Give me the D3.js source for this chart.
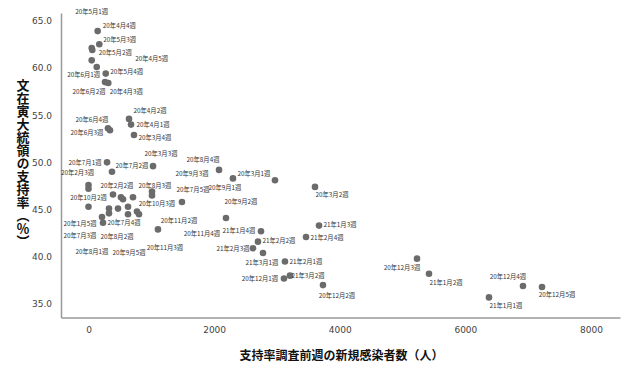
<!DOCTYPE html>
<html><head><meta charset="utf-8">
<script src="https://cdn.jsdelivr.net/npm/d3@7"></script>
<style>body{margin:0;background:#fff}svg{display:block}</style>
</head><body><svg id="c" width="627" height="369"></svg>
<script>
// Week labels ("" = point not labelled in the original)
const weeks = ["20年5月1週","20年4月4週","20年5月3週","20年5月2週","20年4月5週","20年5月4週","20年6月1週","20年6月2週","20年4月3週",
"20年4月2週","20年4月1週","20年6月4週","20年6月3週","20年3月4週","20年3月3週","20年7月1週","20年7月2週","20年2月3週","",
"20年2月2週","","","20年8月3週","20年9月3週","20年7月5週","20年10月2週","20年7月3週","20年8月1週","20年8月2週","",
"20年9月5週","20年10月3週","20年11月2週","20年9月2週","20年1月5週","20年7月4週","20年11月3週",
"20年8月4週","20年9月1週","20年3月1週","20年3月2週","20年11月4週","21年1月4週","21年2月2週","21年2月3週","21年3月1週",
"21年2月1週","21年1月3週","21年2月4週","20年12月1週","21年3月2週","20年12月2週","20年12月3週","21年1月2週","21年1月1週",
"20年12月4週","20年12月5週"];
// New infections in the week before the poll (people)
const infections = [146,172,51,60,51,131,274,263,315,645,677,310,342,724,1027,295,374,0,0,390,517,549,708,1011,1011,0,326,326,470,629,629,772,804,1488,215,231,1106,
2078,2300,2969,3606,2189,2746,2698,2619,2778,3128,3670,3463,3112,3208,3733,5230,5421,6376,6917,7220];
// Approval rating (%)
const approval = [63.9,62.5,62.1,61.9,60.8,60.1,59.4,58.5,58.4,54.6,54.0,53.6,53.4,52.9,49.6,50.0,49.0,47.6,47.2,46.6,46.3,46.1,46.3,46.9,46.5,45.3,45.1,44.6,45.1,45.3,44.5,44.8,44.5,45.8,44.2,43.6,42.9,
49.2,48.3,48.1,47.4,44.1,42.7,41.6,40.9,40.4,39.5,43.3,42.1,37.7,38.0,37.0,39.8,38.2,35.7,36.9,36.8];
const xTicks = [0,2000,4000,6000,8000];
const yTicks = [35,40,45,50,55,60,65];
const xTitle = "支持率調査前週の新規感染者数（人）";
const yTitle = "文在寅大統領の支持率（％）";
// label placement (px offsets from the point)
const labelOffsets = [[-6,-20],[20,-19],[28,-9],[23,3],[60,-2],[30,5],[-22,1],[-16,9],[18,8],[21,-8],[22,0],[-16,-9],[-23,2],[21,3],[8,-13],[-22,0],[20,-6],[-11,-13],[0,0],
[4,-9],[0,0],[0,0],[22,-12],[40,-18],[41,-6],[0,-9],[-29,27],[-17,38],[-1,28],[0,0],[1,38],[20,-8],[40,6],[59,-1],[-22,6],[21,0],[7,18],
[-16,-10],[-8,9],[-21,-7],[17,8],[-24,15],[-22,-1],[21,-1],[-20,0],[-1,9],[21,0],[21,-1],[21,1],[-24,0],[18,0],[14,10],[-15,9],[17,9],[17,8],[-15,-10],[15,7]];

const svg = d3.select("#c");
const x = d3.scaleLinear().domain([0,8000]).range([88.5,591]);
const y = d3.scaleLinear().domain([35,65]).range([304,20.7]);
const L = 61, R = 620, T = 13, B = 317.5;
const xa = x.copy().domain([x.invert(L), x.invert(R)]).range([L,R]);
const ya = y.copy().domain([y.invert(B), y.invert(T)]).range([B,T]);

const gx = svg.append("g").attr("transform",`translate(0,${B})`)
  .call(d3.axisBottom(xa).tickValues(xTicks).tickSize(0).tickPadding(9).tickFormat(d3.format("d")));
const gy = svg.append("g").attr("transform",`translate(${L},0)`)
  .call(d3.axisLeft(ya).tickValues(yTicks).tickSize(0).tickPadding(9).tickFormat(d3.format(".1f")));
[gx,gy].forEach(g=>{
  g.select(".domain").attr("stroke","#999").attr("stroke-width",1.5);
  g.selectAll("text").attr("fill","#444").style("font-family","DejaVu Sans, sans-serif").style("font-size","9px");
});

const data = infections.map((v,i)=>({x:v,y:approval[i],w:weeks[i],o:labelOffsets[i]}));
svg.append("g").selectAll("circle").data(data).join("circle")
  .attr("cx",d=>x(d.x)).attr("cy",d=>y(d.y)).attr("r",3.3).attr("fill","#6b6b6b");
svg.append("g").selectAll("text").data(data.filter(d=>d.w)).join("text")
  .attr("x",d=>x(d.x)+d.o[0]).attr("y",d=>y(d.y)+d.o[1])
  .attr("text-anchor","middle").attr("dominant-baseline","central")
  .style("font-family","'Noto Sans CJK JP', sans-serif").style("font-size","6.3px").attr("fill","#333")
  .text(d=>d.w);

svg.append("text").attr("x",(L+R)/2+1).attr("y",354).attr("text-anchor","middle").attr("dominant-baseline","central")
  .style("font-family","'Noto Sans CJK JP', sans-serif").style("font-size","12px").style("font-weight","bold").attr("fill","#111")
  .text(xTitle);
svg.append("text").attr("x",23).attr("y",163).attr("text-anchor","middle")
  .style("writing-mode","vertical-rl").style("font-family","'Noto Sans CJK JP', sans-serif")
  .style("font-size","13px").style("font-weight","bold").attr("fill","#111")
  .text(yTitle);
</script></body></html>
